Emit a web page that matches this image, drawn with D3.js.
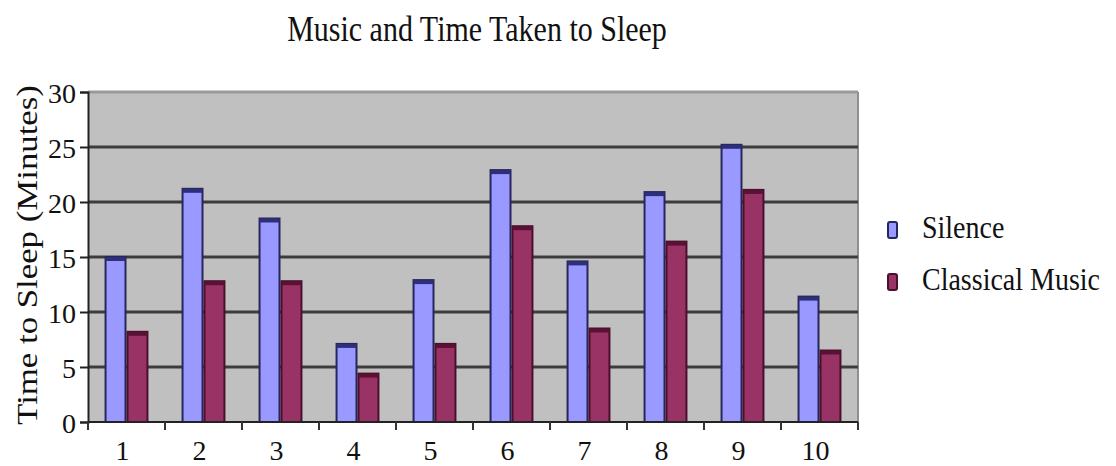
<!DOCTYPE html>
<html>
<head>
<meta charset="utf-8">
<script src="https://cdn.jsdelivr.net/npm/d3@7/dist/d3.min.js"></script>
<style>
  html, body { margin: 0; padding: 0; background: #ffffff; }
  svg { display: block; }
</style>
</head>
<body>
<svg id="chart" width="1116" height="466"></svg>
<script>
// Trial numbers and sleep times (minutes)
const trials = ["1", "2", "3", "4", "5", "6", "7", "8", "9", "10"];
const silence = [15, 21.2, 18.5, 7.1, 12.9, 22.9, 14.6, 20.9, 25.2, 11.4];
const classical = [8.2, 12.8, 12.8, 4.4, 7.1, 17.8, 8.5, 16.4, 21.1, 6.5];
const seriesNames = ["Silence", "Classical Music"];
const yTicks = [0, 5, 10, 15, 20, 25, 30];

const fills = ["#9999ff", "#993366"];
const strokes = ["#26265e", "#4a0f2c"];
const caps = ["#2e2e7a", "#5a1234"];
const FONT = "'Liberation Serif', Tinos, 'Times New Roman', 'DejaVu Serif', serif";

const svg = d3.select("#chart").style("font-family", FONT);
const plot = { left: 88, right: 858, top: 92, bottom: 422 };

const y = d3.scaleLinear().domain([0, 30]).range([plot.bottom, plot.top]);
const x0 = d3.scaleBand().domain(trials).range([plot.left, plot.right])
  .paddingInner(0.43).paddingOuter(0.215);
const x1 = d3.scaleBand().domain(seriesNames).range([0, x0.bandwidth()]);
const xCat = d3.scaleBand().domain(trials).range([plot.left, plot.right]);

// Plot background
svg.append("rect")
  .attr("x", plot.left).attr("y", plot.top)
  .attr("width", plot.right - plot.left).attr("height", plot.bottom - plot.top)
  .attr("fill", "#c0c0c0");
svg.append("line")
  .attr("x1", plot.left).attr("x2", plot.right)
  .attr("y1", plot.top).attr("y2", plot.top)
  .attr("stroke", "#9a9a9a").attr("stroke-width", 3);
svg.append("line")
  .attr("x1", plot.right).attr("x2", plot.right)
  .attr("y1", plot.top).attr("y2", plot.bottom)
  .attr("stroke", "#8f8f8f").attr("stroke-width", 2);

// Horizontal gridlines
svg.append("g").selectAll("line")
  .data(yTicks.filter(t => t > 0 && t < 30))
  .join("line")
  .attr("x1", plot.left).attr("x2", plot.right)
  .attr("y1", d => y(d)).attr("y2", d => y(d))
  .attr("stroke", "#3c3c3c").attr("stroke-width", 3);

// Bars
const rows = trials.map((t, i) => ({ trial: t, values: [silence[i], classical[i]] }));
const groups = svg.append("g").selectAll("g")
  .data(rows)
  .join("g")
  .attr("transform", d => `translate(${x0(d.trial)},0)`);

groups.selectAll("rect.bar")
  .data(d => d.values.map((v, k) => ({ k, v })))
  .join("rect")
  .attr("class", "bar")
  .attr("x", d => x1(seriesNames[d.k]) + 1)
  .attr("y", d => y(d.v))
  .attr("width", x1.bandwidth() - 2)
  .attr("height", d => y(0) - y(d.v))
  .attr("fill", d => fills[d.k])
  .attr("stroke", d => strokes[d.k])
  .attr("stroke-width", 2);

groups.selectAll("rect.cap")
  .data(d => d.values.map((v, k) => ({ k, v })))
  .join("rect")
  .attr("class", "cap")
  .attr("x", d => x1(seriesNames[d.k]) + 1)
  .attr("y", d => y(d.v))
  .attr("width", x1.bandwidth() - 2)
  .attr("height", 4)
  .attr("fill", d => caps[d.k]);

// Y axis
const yAxis = svg.append("g")
  .attr("transform", `translate(${plot.left},0)`)
  .call(d3.axisLeft(y).tickValues(yTicks).tickSize(8).tickPadding(4));
yAxis.attr("font-family", null);
yAxis.select(".domain").attr("stroke", "#222").attr("stroke-width", 2);
yAxis.selectAll(".tick line").attr("stroke", "#222").attr("stroke-width", 2);
yAxis.selectAll(".tick text")
  .style("font-family", FONT)
  .style("font-size", "28px").attr("fill", "#111")
  .attr("dy", "0.36em");

// X axis: ticks at category boundaries, labels centred below each category
const xAxisG = svg.append("g");
xAxisG.append("line")
  .attr("x1", plot.left).attr("x2", plot.right)
  .attr("y1", plot.bottom).attr("y2", plot.bottom)
  .attr("stroke", "#222").attr("stroke-width", 2);
xAxisG.selectAll("line.tick")
  .data(trials.map(t => xCat(t)).concat([plot.right]))
  .join("line")
  .attr("class", "tick")
  .attr("x1", d => d).attr("x2", d => d)
  .attr("y1", plot.bottom).attr("y2", plot.bottom + 8)
  .attr("stroke", "#333").attr("stroke-width", 2);
xAxisG.selectAll("text")
  .data(trials)
  .join("text")
  .attr("x", d => xCat(d) + xCat.bandwidth() / 2 - 4)
  .attr("y", 460)
  .attr("text-anchor", "middle")
  .attr("fill", "#111")
  .style("font-family", FONT)
  .style("font-size", "28px")
  .text(d => d);

// Title
svg.append("text")
  .attr("transform", "translate(477,41) scale(1,1.2)")
  .attr("text-anchor", "middle")
  .attr("fill", "#111")
  .style("font-family", FONT)
  .style("font-size", "30px")
  .text("Music and Time Taken to Sleep");

// Y axis title
svg.append("text")
  .attr("transform", "translate(37,255) rotate(-90) scale(1.2,1)")
  .attr("text-anchor", "middle")
  .attr("fill", "#111")
  .style("font-family", FONT)
  .style("font-size", "29px")
  .text("Time to Sleep (Minutes)");

// Legend
const legend = svg.append("g");
const legendY = [230, 282];
seriesNames.forEach((name, k) => {
  legend.append("rect")
    .attr("x", 888).attr("y", legendY[k] - 8)
    .attr("width", 9).attr("height", 16).attr("rx", 2)
    .attr("fill", fills[k]).attr("stroke", strokes[k]).attr("stroke-width", 2);
  legend.append("text")
    .attr("transform", `translate(922,${legendY[k] + 8}) scale(1,1.1)`)
    .attr("fill", "#111")
    .style("font-family", FONT)
    .style("font-size", "28px")
    .text(name);
});
</script>
</body>
</html>
